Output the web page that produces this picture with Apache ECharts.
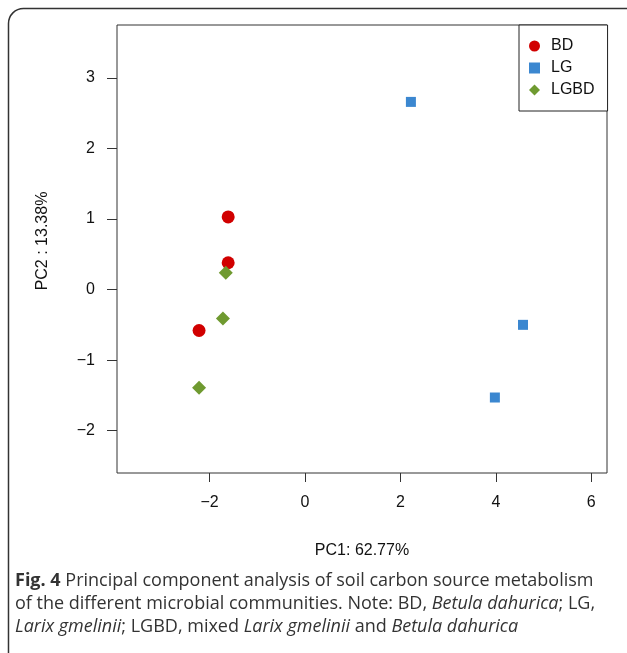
<!DOCTYPE html>
<html>
<head>
<meta charset="utf-8">
<script src="https://cdn.jsdelivr.net/npm/echarts@6/dist/echarts.min.js"></script>
<style>
  html, body { margin: 0; padding: 0; background: #fff; }
  #main { width: 627px; height: 653px; }
</style>
</head>
<body>
<div id="main"></div>
<script>
// PCA scores
var groupNames = ['BD', 'LG', 'LGBD'];
var bdPoints = [[-1.61, 1.03], [-1.61, 0.38], [-2.22, -0.58]];
var lgPoints = [[2.22, 2.66], [4.57, -0.50], [3.98, -1.53]];
var lgbdPoints = [[-1.66, 0.24], [-1.72, -0.41], [-2.22, -1.39]];
var xTicks = [-2, 0, 2, 4, 6];
var yTicks = [-2, -1, 0, 1, 2, 3];

var chartDom = document.getElementById('main');
var myChart = echarts.init(chartDom);
var option;

function minus(v) {
    return String(v).replace('-', '\u2212');
}

var font = "'Liberation Sans', Arial, sans-serif";
var capFont = "'Open Sans', sans-serif";

option = {
    animation: false,
    textStyle: { fontFamily: font },
    grid: {
        left: 117, right: 20, top: 25, bottom: 180,
        show: true, borderColor: '#333', borderWidth: 1
    },
    legend: {
        left: 519, top: 25,
        orient: 'vertical',
        data: groupNames,
        backgroundColor: '#fff',
        borderColor: '#222',
        borderWidth: 1,
        padding: [13, 13, 13, 10],
        itemWidth: 11, itemHeight: 11, itemGap: 6,
        textStyle: { fontSize: 16, color: '#111', fontFamily: font, padding: [0, 0, 0, 6] }
    },
    xAxis: {
        type: 'value',
        min: -3.94, max: 6.33,
        name: 'PC1: 62.77%',
        nameLocation: 'middle',
        nameGap: 70,
        nameTextStyle: { fontSize: 16, color: '#111', fontFamily: font },
        axisLine: { show: false, onZero: false },
        splitLine: { show: false },
        axisTick: { show: true, length: 9, customValues: xTicks, lineStyle: { color: '#333' } },
        axisLabel: { customValues: xTicks, fontSize: 16, color: '#111', margin: 22, fontFamily: font, formatter: minus }
    },
    yAxis: {
        type: 'value',
        min: -2.6, max: 3.75,
        name: 'PC2 : 13.38%',
        nameLocation: 'middle',
        nameGap: 66,
        nameRotate: 90,
        nameTextStyle: { fontSize: 16, color: '#111', fontFamily: font, padding: [0, 0, 0, 16] },
        axisLine: { show: false, onZero: false },
        splitLine: { show: false },
        axisTick: { show: true, length: 10, customValues: yTicks, lineStyle: { color: '#333' } },
        axisLabel: { customValues: yTicks, fontSize: 16, color: '#111', margin: 22, fontFamily: font, formatter: minus }
    },
    series: [
        {
            name: 'BD', type: 'scatter', data: bdPoints,
            symbol: 'circle', symbolSize: 13,
            itemStyle: { color: '#d10000', opacity: 1 }
        },
        {
            name: 'LG', type: 'scatter', data: lgPoints,
            symbol: 'rect', symbolSize: 10,
            itemStyle: { color: '#3b87d0', opacity: 1 }
        },
        {
            name: 'LGBD', type: 'scatter', data: lgbdPoints,
            symbol: 'diamond', symbolSize: [14, 14],
            itemStyle: { color: '#6f9a30', opacity: 1 }
        }
    ],
    graphic: [
        {
            type: 'rect',
            shape: { x: 8.5, y: 8.5, width: 660, height: 700, r: 15 },
            style: { fill: 'none', stroke: '#333', lineWidth: 1.5 },
            silent: true
        },
        {
            type: 'text',
            left: 15, top: 569,
            style: {
                text: '{b|Fig. 4} Principal component analysis of soil carbon source metabolism\n' +
                      'of the different microbial communities. Note: BD, {i|Betula dahurica}; LG,\n' +
                      '{i|Larix gmelinii}; LGBD, mixed {i|Larix gmelinii} and {i|Betula dahurica}',
                fontFamily: capFont,
                fontSize: 18,
                lineHeight: 23,
                fill: '#333',
                rich: {
                    b: { fontWeight: 'bold', fontFamily: capFont, fontSize: 18, lineHeight: 23, fill: '#333' },
                    i: { fontStyle: 'italic', fontFamily: capFont, fontSize: 18, lineHeight: 23, fill: '#333' }
                }
            }
        }
    ]
};

option && myChart.setOption(option);
</script>
</body>
</html>
